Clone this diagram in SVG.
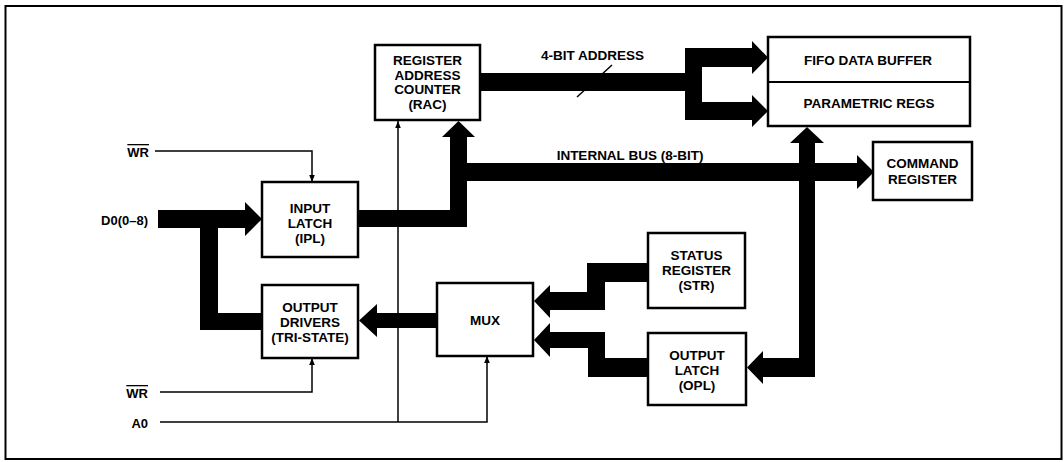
<svg xmlns="http://www.w3.org/2000/svg" width="1064" height="462" viewBox="0 0 1064 462">
<defs>
<style>
.box{fill:#fff;stroke:#000;stroke-width:2.5}
.t{font-family:"Liberation Sans",Arial,sans-serif;font-weight:bold;font-size:13.5px;fill:#000;text-anchor:middle}
.l{font-family:"Liberation Sans",Arial,sans-serif;font-weight:bold;font-size:13px;fill:#000;text-anchor:end}
.bus{fill:#000;stroke:none}
.wire{fill:none;stroke:#000;stroke-width:1.5}
</style>
<marker id="ah" viewBox="0 0 10 10" refX="10" refY="5" markerWidth="7" markerHeight="7" markerUnits="userSpaceOnUse" orient="auto">
<path d="M0,1 L10,5 L0,9 Z" fill="#000"/>
</marker>
</defs>
<rect x="0" y="0" width="1064" height="462" fill="#fff"/>
<rect x="5.5" y="6" width="1056" height="453" fill="none" stroke="#000" stroke-width="2"/>

<g id="connectors">
<polygon class="bus" points="158,210 245,210 245,202 262,219 245,236 245,228 218,228 218,313 263,313 263,330 200,330 200,228 158,228"/>
<polygon class="bus" points="358,210 450,210 450,137 442,137 458.5,121 475,137 467,137 467,163 857,163 857,155 874,172 857,189 857,181 467,181 467,227 358,227"/>
<polygon class="bus" points="480,73 685,73 685,48 752,48 752,41 768,57.5 752,74 752,67 702,67 702,102 752,102 752,95 768,111 752,127 752,120 685,120 685,91 480,91"/>
<line class="wire" x1="577" y1="97" x2="612" y2="65"/>
<polygon class="bus" points="799,143 790,143 807,127 824,143 815,143 815,377 763,377 763,384 747,367.5 763,351 763,358 799,358"/>
<polygon class="bus" points="648,263 587,263 587,292 550,292 550,285 534,301 550,318 550,310 605,310 605,282 648,282"/>
<polygon class="bus" points="550,332 605,332 605,358 648,358 648,377 588,377 588,348 550,348 550,357 534,340 550,323"/>
<polygon class="bus" points="437,313 377,313 377,304 359,320.5 377,337 377,328 437,328"/>
<polyline class="wire" points="155,151 312,151 312,182" marker-end="url(#ah)"/>
<polyline class="wire" points="160,392 312,392 312,358" marker-end="url(#ah)"/>
<polyline class="wire" points="160,422 487,422 487,356" marker-end="url(#ah)"/>
<polyline class="wire" points="398,422 398,121" marker-end="url(#ah)"/>
</g>

<g id="labels">
<text class="l" x="149" y="157" text-decoration="overline">WR</text>
<text class="l" x="148" y="225">D0(0–8)</text>
<text class="l" x="148" y="398" text-decoration="overline">WR</text>
<text class="l" x="148" y="428">A0</text>
<text class="t" x="592.5" y="60">4-BIT ADDRESS</text>
<text class="t" x="630" y="160">INTERNAL BUS (8-BIT)</text>
</g>

<g id="rac">
<rect class="box" x="375" y="45" width="105" height="75"/>
<text class="t" x="427.5" y="65">REGISTER</text>
<text class="t" x="427.5" y="79.5">ADDRESS</text>
<text class="t" x="427.5" y="94">COUNTER</text>
<text class="t" x="427.5" y="109">(RAC)</text>
</g>

<g id="ipl">
<rect class="box" x="262" y="182" width="96" height="75"/>
<text class="t" x="310" y="213">INPUT</text>
<text class="t" x="310" y="228">LATCH</text>
<text class="t" x="310" y="243">(IPL)</text>
</g>

<g id="drivers">
<rect class="box" x="262" y="285" width="96" height="73"/>
<text class="t" x="310" y="311.5">OUTPUT</text>
<text class="t" x="310" y="326.5">DRIVERS</text>
<text class="t" x="310" y="341.5">(TRI-STATE)</text>
</g>

<g id="mux">
<rect class="box" x="437" y="283" width="96" height="73"/>
<text class="t" x="485" y="325">MUX</text>
</g>

<g id="str">
<rect class="box" x="648" y="233" width="97" height="75"/>
<text class="t" x="696.5" y="260">STATUS</text>
<text class="t" x="696.5" y="275">REGISTER</text>
<text class="t" x="696.5" y="290">(STR)</text>
</g>

<g id="opl">
<rect class="box" x="648" y="333" width="98" height="72"/>
<text class="t" x="697" y="360">OUTPUT</text>
<text class="t" x="697" y="375">LATCH</text>
<text class="t" x="697" y="390">(OPL)</text>
</g>

<g id="fifo">
<rect class="box" x="768" y="37" width="202" height="89"/>
<line x1="768" y1="82" x2="970" y2="82" stroke="#000" stroke-width="2"/>
<text class="t" x="868" y="65">FIFO DATA BUFFER</text>
<text class="t" x="869" y="108">PARAMETRIC REGS</text>
</g>

<g id="cmd">
<rect class="box" x="873" y="142" width="99" height="58"/>
<text class="t" x="922.5" y="168">COMMAND</text>
<text class="t" x="922.5" y="184">REGISTER</text>
</g>
</svg>
